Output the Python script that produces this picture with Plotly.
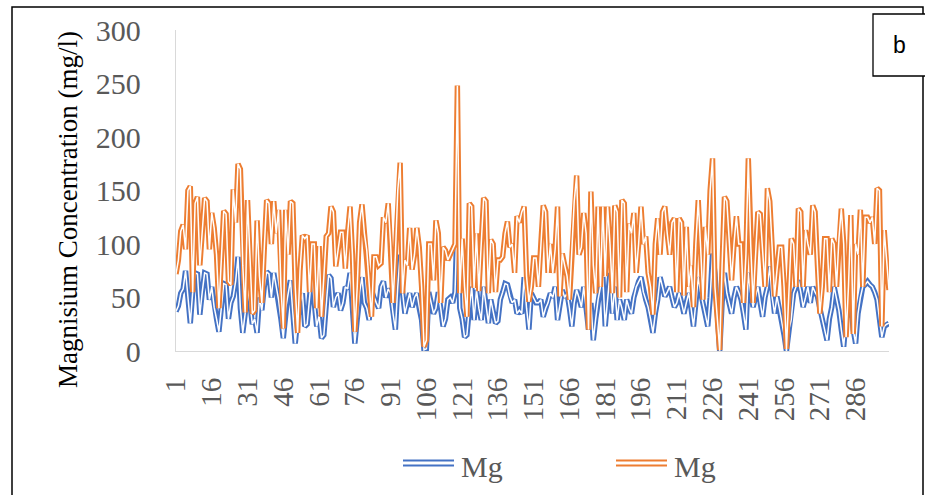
import plotly.graph_objects as go

# ---- data ----
sample_no = list(range(1, 301))
tick_values = [1, 16, 31, 46, 61, 76, 91, 106, 121, 136, 151, 166, 181, 196, 211, 226, 241, 256, 271, 286]
tick_labels = [str(v) for v in tick_values]
y_ticks = [0, 50, 100, 150, 200, 250, 300]

mg_blue = [
    37, 42, 54, 58, 75, 50, 26, 55, 73, 72,
    34, 55, 73, 72, 48, 60, 41, 30, 18, 40,
    63, 62, 30, 45, 51, 65, 88, 40, 17, 35,
    60, 45, 25, 30, 17, 50, 38, 60, 74, 72,
    50, 73, 60, 48, 30, 12, 40, 55, 66, 35,
    7, 30, 45, 54, 23, 25, 50, 73, 45, 23,
    33, 12, 15, 45, 71, 68, 41, 50, 54, 38,
    45, 60, 58, 73, 40, 7, 30, 55, 69, 45,
    40, 29, 57, 50, 45, 40, 60, 65, 50, 58,
    54, 35, 20, 60, 90, 55, 35, 45, 54, 41,
    50, 54, 40, 29, 1, 2, 55, 45, 35, 40,
    55, 40, 23, 30, 48, 50, 45, 55, 127, 40,
    30, 13, 15, 40, 60, 29, 57, 40, 29, 60,
    45, 26, 48, 35, 26, 28, 48, 55, 63, 62,
    51, 45, 48, 35, 38, 35, 69, 40, 20, 54,
    50, 45, 45, 48, 32, 40, 45, 54, 50, 60,
    29, 45, 57, 50, 54, 40, 23, 45, 57, 50,
    41, 60, 40, 20, 45, 10, 30, 48, 60, 69,
    23, 50, 73, 35, 60, 29, 48, 40, 29, 48,
    40, 35, 50, 60, 65, 69, 55, 48, 41, 30,
    17, 35, 48, 69, 60, 51, 55, 60, 50, 41,
    45, 54, 45, 35, 45, 54, 40, 23, 45, 69,
    55, 45, 35, 23, 50, 91, 73, 30, 0, 45,
    73, 54, 45, 35, 50, 60, 55, 48, 35, 20,
    73, 54, 41, 50, 60, 45, 32, 50, 60, 79,
    50, 35, 51, 40, 29, 15, 0, 20, 29, 54,
    60, 66, 55, 41, 50, 60, 45, 60, 55, 51,
    40, 29, 20, 10, 30, 41, 60, 50, 38, 20,
    4, 30, 40, 45, 20, 7, 35, 50, 60, 62,
    65, 62, 60, 55, 48, 30, 13, 23, 25, 26,
]

mg_orange = [
    72, 85, 112, 118, 95, 150, 154, 55, 138, 144,
    80, 110, 143, 140, 95, 129, 115, 90, 40, 85,
    131, 128, 65, 62, 151, 120, 175, 170, 80, 36,
    141, 90, 35, 38, 122, 70, 45, 95, 141, 138,
    100, 140, 110, 132, 60, 21, 132, 90, 140, 138,
    60, 17, 75, 108, 105, 108, 55, 100, 100, 40,
    98, 32, 65, 107, 110, 135, 130, 79, 95, 111,
    111, 77, 111, 135, 90, 18, 60, 120, 137, 110,
    94, 60, 32, 88, 88, 80, 82, 125, 120, 138,
    100, 45, 90, 150, 176, 54, 85, 80, 115, 76,
    90, 115, 97, 60, 4, 10, 100, 100, 66, 122,
    110, 45, 97, 94, 85, 90, 95, 100, 248, 54,
    105, 60, 32, 138, 135, 59, 110, 56, 100, 143,
    140, 54, 104, 100, 55, 85, 85, 88, 110, 121,
    97, 100, 73, 126, 120, 130, 135, 70, 46, 60,
    87, 87, 60, 100, 136, 130, 73, 100, 73, 95,
    135, 51, 91, 80, 70, 48, 90, 140, 164, 90,
    97, 129, 110, 20, 149, 80, 54, 135, 60, 135,
    70, 135, 100, 54, 136, 130, 50, 141, 138, 55,
    119, 110, 129, 73, 100, 135, 100, 107, 73, 60,
    34, 100, 124, 90, 130, 135, 110, 90, 120, 124,
    55, 124, 120, 52, 116, 60, 80, 41, 100, 141,
    97, 48, 116, 90, 150, 180, 60, 30, 1, 80,
    144, 140, 97, 66, 100, 126, 100, 100, 45, 90,
    180, 100, 45, 90, 130, 128, 97, 60, 152, 140,
    97, 51, 75, 97, 97, 60, 2, 60, 105, 100,
    60, 133, 130, 60, 113, 100, 90, 136, 130, 80,
    35, 60, 105, 105, 55, 105, 100, 60, 105, 133,
    100, 13, 60, 127, 16, 100, 90, 132, 60, 125,
    125, 120, 125, 100, 152, 150, 23, 113, 80, 57,
]

series_names = ["Mg", "Mg"]
BLUE = "#4472C4"
ORANGE = "#ED7D31"
GREY_TXT = "#595959"
SERIF = "Liberation Serif, Times New Roman, serif"

# ---- layout geometry (pixels) ----
W, H = 925, 495
L, R, T, B = 176, 889, 30, 351


def px(x):
    return (x - L) / (R - L)


def py(y):
    return (B - y) / (B - T)


fig = go.Figure()
for vals, col, name in [(mg_blue, BLUE, series_names[0]), (mg_orange, ORANGE, series_names[1])]:
    fig.add_trace(go.Scatter(x=sample_no, y=vals, mode="lines", name=name,
                             line=dict(color=col, width=5.4), showlegend=False,
                             hoverinfo="skip"))
    fig.add_trace(go.Scatter(x=sample_no, y=vals, mode="lines", name=name,
                             line=dict(color="white", width=1.5), showlegend=False,
                             hoverinfo="skip"))

shapes = []
# outer frame
shapes.append(dict(type="rect", xref="paper", yref="paper",
                   x0=px(12), x1=px(923), y0=py(505), y1=py(7),
                   line=dict(color="black", width=1.5), fillcolor="rgba(0,0,0,0)", layer="below"))
# "b" box
shapes.append(dict(type="rect", xref="paper", yref="paper",
                   x0=px(873), x1=px(930), y0=py(76), y1=py(14),
                   line=dict(color="black", width=1.3), fillcolor="white"))
# manual legend (double-line icons)
for (x0, x1), col in [((403, 454), BLUE), ((616, 667), ORANGE)]:
    for yy in (460.5, 465.5):
        shapes.append(dict(type="line", xref="paper", yref="paper",
                           x0=px(x0), x1=px(x1), y0=py(yy), y1=py(yy),
                           line=dict(color=col, width=2)))

annotations = [
    dict(text="Magnisium Concentration (mg/l)", xref="paper", yref="paper",
         x=px(68), y=py(210), textangle=-90, showarrow=False,
         xanchor="center", yanchor="middle",
         font=dict(family=SERIF, size=27, color="#000000")),
    dict(text="b", xref="paper", yref="paper", x=px(899), y=py(45),
         showarrow=False, xanchor="center", yanchor="middle",
         font=dict(family="Liberation Sans, Arial, sans-serif", size=23, color="black")),
    dict(text=series_names[0], xref="paper", yref="paper", x=px(459), y=py(466),
         showarrow=False, xanchor="left", yanchor="middle",
         font=dict(family=SERIF, size=30, color=GREY_TXT)),
    dict(text=series_names[1], xref="paper", yref="paper", x=px(672), y=py(466),
         showarrow=False, xanchor="left", yanchor="middle",
         font=dict(family=SERIF, size=30, color=GREY_TXT)),
]

fig.update_layout(
    width=W, height=H,
    margin=dict(l=L, r=W - R, t=T, b=H - B, pad=0),
    paper_bgcolor="white", plot_bgcolor="white",
    showlegend=False,
    shapes=shapes, annotations=annotations,
    xaxis=dict(range=[1, 300], tickmode="array", tickvals=tick_values, ticktext=tick_labels,
               tickangle=-90, showgrid=False, zeroline=False,
               showline=True, linecolor="#D9D9D9", linewidth=1.3,
               ticks="", ticklabelstandoff=14,
               tickfont=dict(family=SERIF, size=29, color=GREY_TXT)),
    yaxis=dict(range=[0, 300], tickmode="array", tickvals=y_ticks,
               showgrid=False, zeroline=False,
               showline=True, linecolor="#D9D9D9", linewidth=1.3,
               ticks="", ticklabelstandoff=28,
               tickfont=dict(family=SERIF, size=30, color=GREY_TXT)),
)

fig.write_html("out.html")
